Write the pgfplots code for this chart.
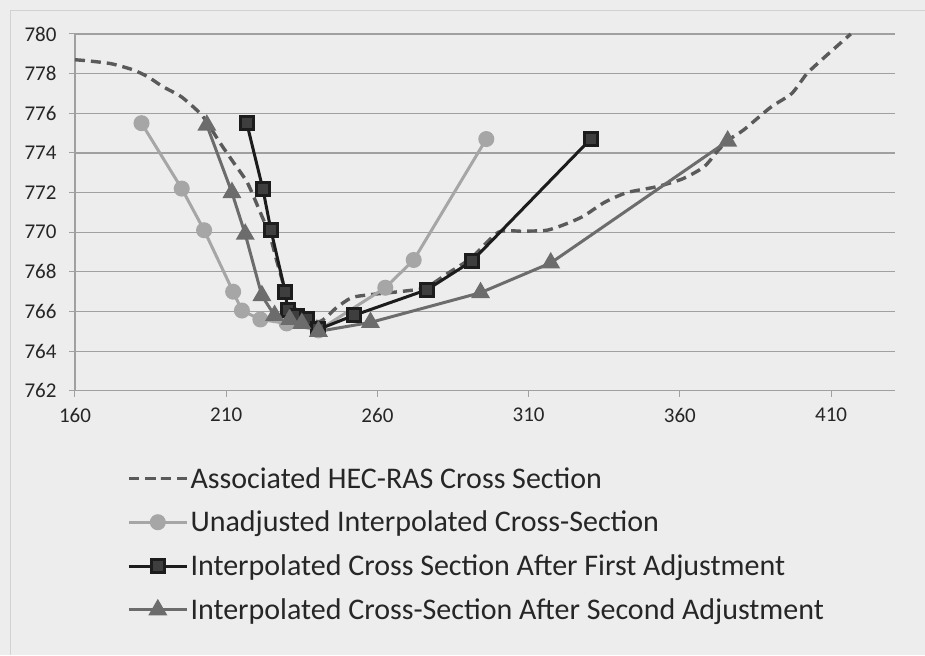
\documentclass[border=0pt]{standalone}
\usepackage{fontspec}
\setmainfont{Carlito}
\usepackage{pgfplots}
\pgfplotsset{compat=1.18}
\definecolor{bg}{HTML}{EDEDED}
\definecolor{hecc}{HTML}{5A5A5A}
\definecolor{unadj}{HTML}{A6A6A6}
\definecolor{firstc}{HTML}{1C1C1C}
\definecolor{secondc}{HTML}{6C6C6C}
\definecolor{gridc}{HTML}{A0A0A0}
\begin{document}
\begin{tikzpicture}[x=1pt,y=1pt]
\fill[bg] (0,0) rectangle (925,655);
\draw[gray!35,line width=0.8pt] (10,0) -- (10,645) -- (925,645);
\begin{axis}[
  at={(75pt,264pt)}, anchor=south west,
  scale only axis, width=820pt, height=357pt,
  xmin=160, xmax=431, ymin=762, ymax=780,
  xtick={160,210,260,310,360,410},
  ytick={762,764,766,768,770,772,774,776,778,780},
  axis lines*=left,
  axis line style={gridc, line width=1.2pt, -},
  ymajorgrids, grid style={gridc, line width=1.2pt},
  tick style={gridc, line width=1pt},
  major tick length=6pt, tick align=outside,
  ticklabel style={font=\fontsize{21}{21}\selectfont, text=black!85},
  /pgf/number format/assume math mode=true,
  /pgf/number format/1000 sep={},
  yticklabel style={xshift=-9pt},
  xticklabel style={yshift=-8pt},
  clip=false,
  legend cell align=left,
  legend style={draw=none, fill=none, at={(0.0634,-0.208)}, anchor=north west,
    font=\fontsize{30}{30}\selectfont, row sep=17.5pt, inner sep=0pt,
    nodes={inner sep=2pt, text=black!85}},
  legend image code/.code={\draw[mark repeat=2,mark phase=2,#1] plot coordinates {(0pt,0pt) (29pt,0pt) (58pt,0pt)};},
]
\addplot[hecc, line width=3.4pt, dash pattern=on 10pt off 6pt, smooth, tension=0.4] coordinates {
(160,778.7) (164,778.65) (172,778.5) (179,778.2) (184,777.85) (189,777.35)
(195,776.85) (200,776.2) (203,775.7) (208,774.5) (212.5,773.5) (217,772.5)
(221,771.1) (224.5,769.8) (227,768.4) (230,766.9) (234.5,765.8) (241,765.5)
(246.5,766.2) (251.5,766.7) (257.5,766.85) (264,766.95) (270,767.05) (276,767.2)
(283,767.9) (291,768.7) (300,770.0) (308,770.05) (316,770.1) (322,770.4)
(328,770.8) (335,771.5) (342.5,772.0) (352.5,772.3) (361,772.7) (368,773.3)
(372.5,774.1) (376,774.65) (381,775.15) (390,776.3) (397,777.0) (402,778.0)
(408,778.85) (416.5,780.0)
};
\addlegendentry{Associated HEC-RAS Cross Section}
\addplot[unadj, line width=3pt, mark=*, mark size=6.5pt, mark options={solid, fill=unadj, draw=unadj}] coordinates {
(182,775.5) (195.3,772.2) (202.7,770.1) (212.3,767.0) (215.2,766.05) (221.3,765.6)
(230,765.4) (240.5,765.05) (262.6,767.2) (272,768.6) (296,774.7)
};
\addlegendentry{Unadjusted Interpolated Cross-Section}
\addplot[firstc, line width=3pt, mark=square*, mark size=6.5pt, mark options={solid, fill=firstc!85, draw=firstc}] coordinates {
(216.8,775.5) (222.1,772.2) (224.8,770.1) (229.5,767.0) (230.3,766.1) (233.4,765.75)
(236.7,765.6) (240.5,765.1) (252.1,765.8) (276.4,767.1) (291.3,768.55) (330.5,774.7)
};
\addlegendentry{Interpolated Cross Section After First Adjustment}
\addplot[secondc, line width=3pt, mark=triangle*, mark size=8pt, mark options={solid, fill=secondc, draw=secondc}] coordinates {
(203.6,775.4) (211.9,772.0) (216.3,769.9) (221.8,766.8) (226,765.8) (231,765.6)
(235,765.4) (240.5,765.0) (257.7,765.45) (294.1,766.95) (317.3,768.45) (375.8,774.6)
};
\addlegendentry{Interpolated Cross-Section After Second Adjustment}
\end{axis}
\end{tikzpicture}
\end{document}
